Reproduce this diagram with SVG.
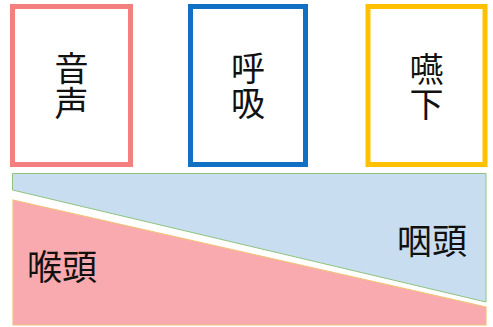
<svg xmlns="http://www.w3.org/2000/svg" width="493" height="327" viewBox="0 0 493 327">
<style>
.box{fill:#fff;stroke-width:5}
.lbl{font-family:"Noto Sans CJK JP","Noto Sans CJK SC",sans-serif;font-size:34px;fill:#111;text-anchor:middle}
.big{font-family:"Noto Sans CJK JP","Noto Sans CJK SC",sans-serif;font-size:35px;fill:#111}
</style>
<rect width="493" height="327" fill="#fff"/>
<g id="onsei">
<rect class="box" x="12.5" y="6.5" width="118" height="158" stroke="#F3807F"/>
<text class="lbl" x="71.5" y="81">音</text>
<text class="lbl" x="71.5" y="116">声</text>
</g>
<g id="kokyu">
<rect class="box" x="190.5" y="6.5" width="115" height="158" stroke="#1170C4"/>
<text class="lbl" x="248" y="81">呼</text>
<text class="lbl" x="248" y="116">吸</text>
</g>
<g id="engeki">
<rect class="box" x="368" y="6.5" width="117" height="158" stroke="#FFC000"/>
<text class="lbl" x="426.5" y="82">嚥</text>
<text class="lbl" x="426.5" y="117">下</text>
</g>
<g id="intou">
<polygon points="12.5,173.5 486,173.5 486,302 12.5,190" fill="#C8DDEF" stroke="#8EC47E" stroke-width="1"/>
<text class="big" x="397" y="254">咽頭</text>
</g>
<g id="koutou">
<polygon points="13,200 486,307 486,325 13,325" fill="#F9AAAE" stroke="#F2C27A" stroke-width="1.2"/>
<text class="big" x="27" y="280">喉頭</text>
</g>
<g id="connectors"></g>
</svg>
